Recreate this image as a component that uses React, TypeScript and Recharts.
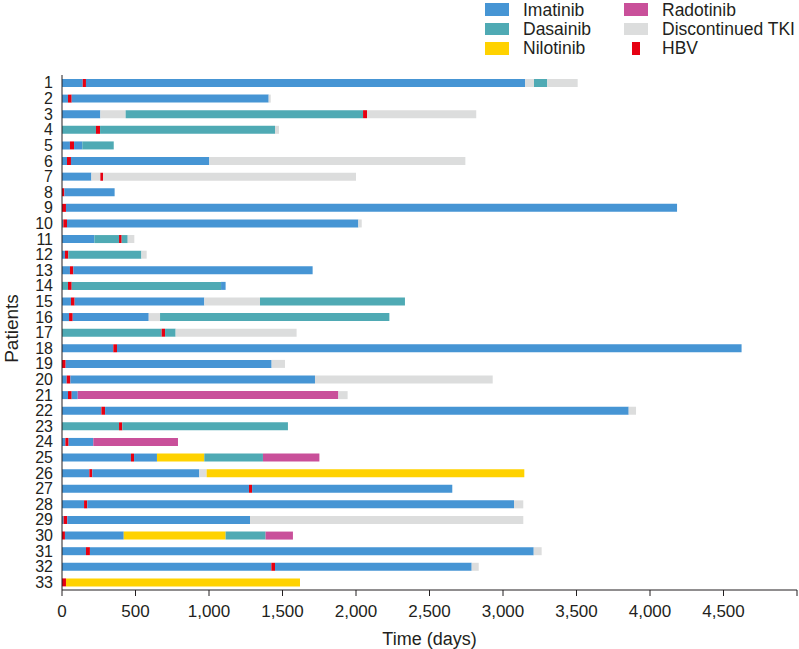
import React from 'react';
import { BarChart, Bar, XAxis, YAxis, Cell } from 'recharts';

// Patient labels (y categories)
const patients = ['1','2','3','4','5','6','7','8','9','10','11','12','13','14','15','16','17','18','19','20','21','22','23','24','25','26','27','28','29','30','31','32','33'];

// Segment type codes per patient: I=Imatinib, D=Dasatinib, N=Nilotinib, R=Radotinib, X=Discontinued TKI, H=HBV
const segmentTypes: string[][] = [
  ['I','H','I','X','D','X'],
  ['I','H','I','X'],
  ['I','X','D','H','X'],
  ['D','H','D','X'],
  ['I','H','I','D'],
  ['I','H','I','X'],
  ['I','X','H','X'],
  ['H','I'],
  ['H','I'],
  ['I','H','I','X'],
  ['I','D','H','D','X'],
  ['I','H','D','X'],
  ['I','H','I'],
  ['D','H','D','I'],
  ['I','H','I','X','D'],
  ['I','H','I','X','D'],
  ['D','H','D','X'],
  ['I','H','I'],
  ['H','I','X'],
  ['I','H','I','X'],
  ['I','H','I','R','X'],
  ['I','H','I','X'],
  ['D','H','D'],
  ['I','H','I','R'],
  ['I','H','I','N','D','R'],
  ['I','H','I','X','N'],
  ['I','H','I'],
  ['I','H','I','X'],
  ['I','H','I','X'],
  ['H','I','N','D','R'],
  ['I','H','I','X'],
  ['I','H','I','X'],
  ['H','N'],
];

// Segment durations (days), matching segmentTypes
const segmentDays: number[][] = [
  [141, 22, 2987, 61, 90, 207],
  [41, 25, 1340, 14],
  [261, 172, 1615, 27, 743],
  [231, 28, 1190, 27],
  [54, 28, 56, 214],
  [34, 27, 941, 1742],
  [200, 61, 18, 1721],
  [16, 342],
  [27, 4157],
  [9, 25, 1982, 23],
  [220, 168, 18, 41, 45],
  [20, 23, 497, 36],
  [54, 23, 1628],
  [41, 25, 1016, 31],
  [61, 25, 882, 379, 986],
  [48, 25, 517, 77, 1560],
  [678, 23, 72, 823],
  [349, 25, 4249],
  [25, 1401, 91],
  [32, 25, 1664, 1209],
  [41, 25, 41, 1773, 63],
  [268, 25, 3562, 50],
  [388, 22, 1127],
  [23, 22, 168, 576],
  [469, 21, 156, 322, 399, 384],
  [186, 20, 728, 50, 2161],
  [1272, 21, 1362],
  [150, 22, 2903, 63],
  [11, 25, 1243, 1859],
  [20, 400, 693, 272, 186],
  [163, 27, 3019, 54],
  [1424, 25, 1338, 48],
  [27, 1592],
];

const xTicks = [0, 500, 1000, 1500, 2000, 2500, 3000, 3500, 4000, 4500, 5000];

const colors: Record<string, string> = {
  I: '#4695d4',
  D: '#4faab4',
  N: '#ffd200',
  R: '#c9509a',
  X: '#dcdddd',
  H: '#e60012',
};

const legendItems = [
  { label: 'Imatinib', code: 'I', col: 0, row: 0 },
  { label: 'Dasainib', code: 'D', col: 0, row: 1 },
  { label: 'Nilotinib', code: 'N', col: 0, row: 2 },
  { label: 'Radotinib', code: 'R', col: 1, row: 0 },
  { label: 'Discontinued TKI', code: 'X', col: 1, row: 1 },
  { label: 'HBV', code: 'H', col: 1, row: 2 },
];

const maxSegs = Math.max(...segmentDays.map((s) => s.length));

const rows = patients.map((name, i) => {
  const r: Record<string, any> = { name };
  segmentDays[i].forEach((d, k) => {
    r[`s${k}`] = d;
    r[`t${k}`] = segmentTypes[i][k];
  });
  return r;
});

const FONT = '"Liberation Sans", Arial, Helvetica, sans-serif';
const TEXT = '#231f20';

const fmt = (v: number) => (v === 5000 ? '' : v.toLocaleString('en-US'));

const PatientsLabel = (props: any) => {
  const vb = props.viewBox || {};
  const x = (vb.x ?? 0) + 17.5;
  const y = (vb.y ?? 0) + (vb.height ?? 0) / 2 - 4;
  return (
    <text x={x} y={y} transform={`rotate(-90, ${x}, ${y})`} textAnchor="middle" fontSize={19} fill={TEXT} fontFamily={FONT}>
      Patients
    </text>
  );
};

export default function App() {
  return (
    <div style={{ position: 'absolute', left: 0, top: 0, width: 799, height: 649, background: '#fff', fontFamily: FONT }}>
      <BarChart
        width={799}
        height={649}
        data={rows}
        layout="vertical"
        margin={{ top: 75, right: 2, left: 0, bottom: 0 }}
        barSize={8}
      >
        <XAxis
          type="number"
          domain={[0, 5000]}
          ticks={xTicks}
          tickFormatter={fmt}
          interval={0}
          height={59}
          tickSize={6}
          tickMargin={9}
          stroke={TEXT}
          tick={{ fontSize: 17, fill: TEXT, fontFamily: FONT }}
          axisLine={{ stroke: TEXT }}
          tickLine={{ stroke: TEXT }}
          label={{ value: 'Time (days)', position: 'insideBottom', offset: 4, fontSize: 18, fill: TEXT, fontFamily: FONT }}
        />
        <YAxis
          type="category"
          dataKey="name"
          width={62}
          interval={0}
          tickLine={false}
          tickSize={6}
          tickMargin={3}
          axisLine={{ stroke: TEXT }}
          tick={{ fontSize: 16, fill: TEXT, fontFamily: FONT }}
          label={<PatientsLabel />}
        />
        {Array.from({ length: maxSegs }, (_, k) => (
          <Bar key={k} dataKey={`s${k}`} stackId="a" isAnimationActive={false}>
            {rows.map((r, i) => (
              <Cell key={i} fill={colors[r[`t${k}`]] || 'transparent'} />
            ))}
          </Bar>
        ))}
      </BarChart>
      <div style={{ position: 'absolute', left: 0, top: 0, width: 799, height: 60, pointerEvents: 'none' }}>
        {legendItems.map((it) => {
          const center = 9.6 + it.row * 19.3;
          const swLeft = it.col === 0 ? 485 : 624;
          const txLeft = it.col === 0 ? 523 : 662;
          const isHbv = it.code === 'H';
          return (
            <React.Fragment key={it.label}>
              <div
                style={{
                  position: 'absolute',
                  left: isHbv ? swLeft + 8 : swLeft,
                  top: center - 6.3,
                  width: isHbv ? 8 : 24,
                  height: 12.7,
                  background: colors[it.code],
                }}
              />
              <div
                style={{
                  position: 'absolute',
                  left: txLeft,
                  top: center - 7,
                  height: 14,
                  lineHeight: '14px',
                  fontSize: 17.5,
                  color: TEXT,
                  whiteSpace: 'nowrap',
                  fontFamily: FONT,
                }}
              >
                {it.label}
              </div>
            </React.Fragment>
          );
        })}
      </div>
    </div>
  );
}
